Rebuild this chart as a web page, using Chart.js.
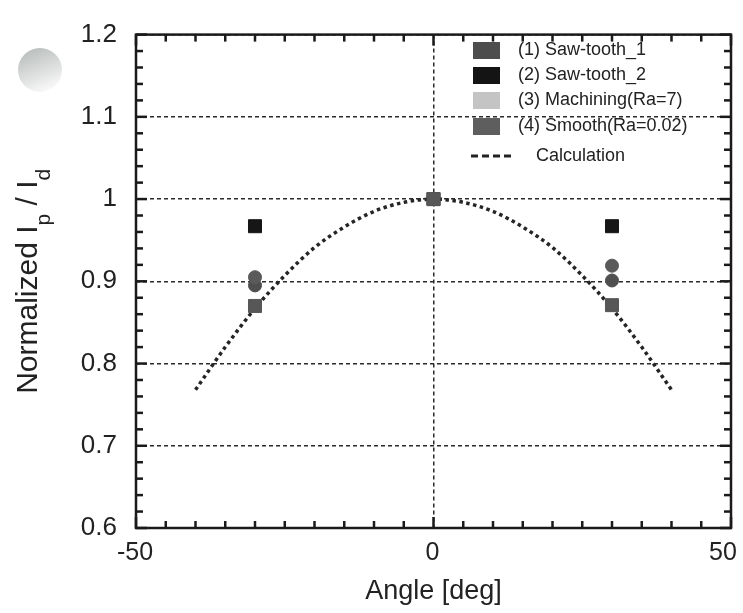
<!DOCTYPE html>
<html>
<head>
<meta charset="utf-8">
<script src="https://cdn.jsdelivr.net/npm/chart.js@4.4.1/dist/chart.umd.min.js"></script>
<style>
  html, body { margin: 0; padding: 0; background: #fff; }
  #wrap { width: 743px; height: 613px; }
</style>
</head>
<body>
<div id="wrap"><canvas id="chart" width="743" height="613"></canvas></div>
<script>
// measured points (angle in deg, normalized Ip/Id)
const angles = [-30, 0, 30];
const sawTooth1 = [0.870, 1.0, 0.871];
const sawTooth2 = [0.967, 1.0, 0.967];
const machining = [0.905, 1.0, 0.919];
const smooth = [0.895, 1.0, 0.901];

// calculated curve
const calcAngles = [-40, -35, -30, -25, -20, -15, -10, -5, 0, 5, 10, 15, 20, 25, 30, 35, 40];
const calcValues = [0.768, 0.820, 0.867, 0.907, 0.941, 0.966, 0.985, 0.996, 1.0,
                    0.996, 0.985, 0.966, 0.941, 0.907, 0.867, 0.820, 0.768];

const seriesLabels = ['(1) Saw-tooth_1', '(2) Saw-tooth_2', '(3) Machining(Ra=7)', '(4) Smooth(Ra=0.02)'];
const calcLabel = 'Calculation';
const xTicks = [-50, 0, 50];
const yTicks = [0.6, 0.7, 0.8, 0.9, 1, 1.1, 1.2];
const xMinorStep = 5;
const yMinorStep = 0.02;

const FONT = '"Liberation Sans", Arial, sans-serif';
const INK = '#222';
const swatchColors = ['#4d4d4d', '#141414', '#c4c4c4', '#5e5e5e'];

const toPts = (xs, ys) => xs.map((x, i) => ({ x, y: ys[i] }));

const decor = {
    id: 'decor',
    beforeDraw(chart) {
        const { ctx } = chart;
        ctx.save();
        ctx.fillStyle = '#fff';
        ctx.fillRect(0, 0, chart.width, chart.height);
        // the shiny blob at the top left of the scan
        const g = ctx.createLinearGradient(30, 48, 48, 92);
        g.addColorStop(0, '#b9bdbb');
        g.addColorStop(0.45, '#d6d9d7');
        g.addColorStop(1, '#fbfbfb');
        ctx.fillStyle = g;
        ctx.beginPath();
        ctx.arc(40, 70, 22, 0, Math.PI * 2);
        ctx.fill();
        ctx.restore();
    },
    afterDraw(chart) {
        const { ctx, chartArea: a } = chart;
        const x = chart.scales.x, y = chart.scales.y;
        const x0 = xTicks[0], x1 = xTicks[xTicks.length - 1];
        const y0 = yTicks[0], y1 = yTicks[yTicks.length - 1];
        ctx.save();
        ctx.setLineDash([]);

        // frame
        ctx.strokeStyle = '#1a1a1a';
        ctx.lineWidth = 2.5;
        ctx.strokeRect(a.left, a.top, a.right - a.left, a.bottom - a.top);

        // inward ticks on all four sides
        ctx.fillStyle = '#1a1a1a';
        const xCount = Math.round((x1 - x0) / xMinorStep);
        for (let i = 0; i <= xCount; i++) {
            const px = x.getPixelForValue(x0 + i * xMinorStep);
            const len = i % 10 === 0 ? 11 : 7;
            ctx.fillRect(px - 1.25, a.bottom - len, 2.5, len);
            ctx.fillRect(px - 1.25, a.top, 2.5, len);
        }
        const yCount = Math.round((y1 - y0) / yMinorStep);
        for (let i = 0; i <= yCount; i++) {
            const py = y.getPixelForValue(y0 + i * yMinorStep);
            const len = i % 5 === 0 ? 11 : 7;
            ctx.fillRect(a.left, py - 1.25, len, 2.5);
            ctx.fillRect(a.right - len, py - 1.25, len, 2.5);
        }

        // x tick labels; the last one is pulled in so it stays on the page
        ctx.fillStyle = INK;
        ctx.font = '25px ' + FONT;
        ctx.textBaseline = 'middle';
        ctx.textAlign = 'center';
        xTicks.forEach((v, i) => {
            const shift = i === xTicks.length - 1 ? -8 : -1;
            ctx.fillText(String(v), x.getPixelForValue(v) + shift, a.bottom + 25);
        });

        // y title with subscripts
        const parts = [
            ['Normalized I', 30, 0], ['p', 21, 13], [' / I', 30, 0], ['d', 21, 13],
        ];
        ctx.textBaseline = 'alphabetic';
        ctx.textAlign = 'left';
        let total = 0;
        parts.forEach(([t, s]) => { ctx.font = s + 'px ' + FONT; total += ctx.measureText(t).width; });
        ctx.translate(37, (a.top + a.bottom) / 2);
        ctx.rotate(-Math.PI / 2);
        let tx = -total / 2;
        parts.forEach(([t, s, dy]) => {
            ctx.font = s + 'px ' + FONT;
            ctx.fillText(t, tx, dy);
            tx += ctx.measureText(t).width;
        });
        ctx.setTransform(1, 0, 0, 1, 0, 0);

        // legend
        const rows = [50, 75, 100, 126];
        ctx.font = '18px ' + FONT;
        ctx.textBaseline = 'middle';
        seriesLabels.forEach((label, i) => {
            ctx.fillStyle = swatchColors[i];
            ctx.fillRect(473, rows[i] - 8, 27, 17);
            ctx.fillStyle = INK;
            ctx.fillText(label, 518, rows[i]);
        });
        ctx.strokeStyle = INK;
        ctx.lineWidth = 3;
        ctx.setLineDash([7, 4]);
        ctx.beginPath();
        ctx.moveTo(471, 156); ctx.lineTo(515, 156);
        ctx.stroke();
        ctx.setLineDash([]);
        ctx.fillText(calcLabel, 536, 156);

        ctx.restore();
    },
};

const marker = (label, data, style, color, r) => ({
    label,
    data: toPts(angles, data),
    showLine: false,
    pointStyle: style,
    pointRadius: r,
    pointHoverRadius: r,
    pointBackgroundColor: color,
    pointBorderColor: color,
    pointBorderWidth: 1,
});

new Chart(document.getElementById('chart'), {
    type: 'scatter',
    data: {
        datasets: [
            marker(seriesLabels[0], sawTooth1, 'rect', '#575757', 9.2),
            marker(seriesLabels[1], sawTooth2, 'rect', '#161616', 9.2),
            marker(seriesLabels[2], machining, 'circle', '#5a5a5a', 6.5),
            marker(seriesLabels[3], smooth, 'circle', '#4f4f4f', 6.5),
            {
                label: calcLabel,
                data: toPts(calcAngles, calcValues),
                showLine: true,
                borderColor: '#252525',
                borderWidth: 3.5,
                borderDash: [3.5, 3.5],
                pointRadius: 0,
                cubicInterpolationMode: 'monotone',
            },
        ],
    },
    options: {
        responsive: false,
        animation: false,
        events: [],
        layout: { padding: { top: 28, right: 12, bottom: 0, left: 0 } },
        plugins: {
            legend: { display: false },
            tooltip: { enabled: false },
        },
        scales: {
            x: {
                type: 'linear',
                min: -50,
                max: 50,
                afterBuildTicks: s => { s.ticks = xTicks.map(value => ({ value })); },
                afterFit: s => { s.height = 85; },
                ticks: { display: false },
                grid: { color: '#2a2a2a', lineWidth: 1.5, drawTicks: false },
                border: { display: false, dash: [4, 3] },
                title: {
                    display: true,
                    text: 'Angle [deg]',
                    color: INK,
                    font: { family: FONT, size: 27 },
                    padding: { top: 0, bottom: 5 },
                },
            },
            y: {
                type: 'linear',
                min: 0.6,
                max: 1.2,
                afterBuildTicks: s => { s.ticks = yTicks.map(value => ({ value })); },
                afterFit: s => { s.width = 136; },
                ticks: {
                    color: INK, font: { family: FONT, size: 26 }, padding: 19,
                    callback: v => String(v),
                },
                grid: { color: '#2a2a2a', lineWidth: 1.5, drawTicks: false },
                border: { display: false, dash: [4, 3] },
            },
        },
    },
    plugins: [decor],
});
</script>
</body>
</html>
